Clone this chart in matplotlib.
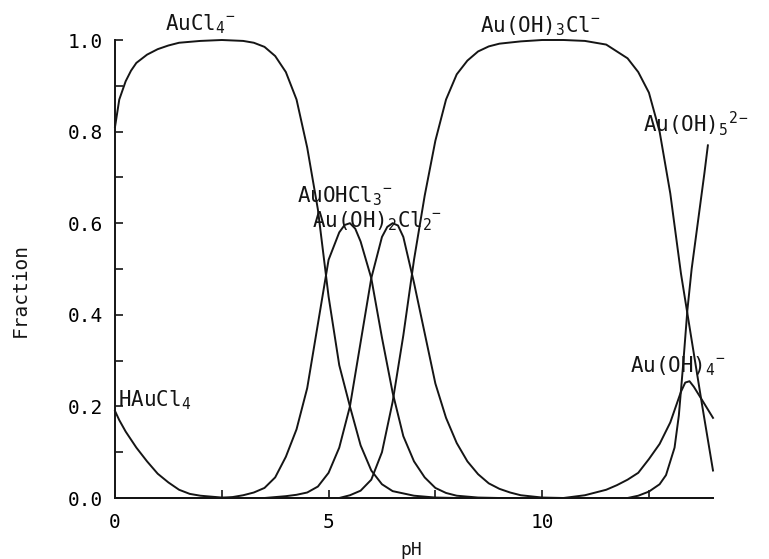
import matplotlib
matplotlib.use("Agg")
import matplotlib.pyplot as plt

# fraction of each Au(III) species against pH
ph_haucl4 = [0, 0.1, 0.25, 0.5, 0.75, 1.0, 1.25, 1.5, 1.75, 2.0, 2.5, 3.0, 14.0]
f_haucl4 = [0.19, 0.17, 0.145, 0.11, 0.08, 0.053, 0.034, 0.018, 0.009, 0.005, 0.001, 0.0, 0.0]

ph_aucl4 = [0, 0.1, 0.25, 0.375, 0.5, 0.75, 1.0, 1.25, 1.5, 2.0, 2.5, 3.0, 3.25, 3.5, 3.75,
            4.0, 4.25, 4.5, 4.75, 5.0, 5.25, 5.5, 5.75, 6.0, 6.25, 6.5, 7.0, 7.5, 8.0, 14.0]
f_aucl4 = [0.81, 0.87, 0.91, 0.933, 0.95, 0.968, 0.98, 0.988, 0.994, 0.998, 1.0, 0.998,
           0.994, 0.985, 0.965, 0.93, 0.87, 0.765, 0.63, 0.44, 0.29, 0.2, 0.115, 0.06,
           0.03, 0.015, 0.005, 0.001, 0.0, 0.0]

ph_auohcl3 = [0, 2.5, 2.75, 3.0, 3.25, 3.5, 3.75, 4.0, 4.25, 4.5, 4.75, 5.0, 5.25, 5.375,
              5.5, 5.625, 5.75, 6.0, 6.25, 6.5, 6.75, 7.0, 7.25, 7.5, 7.75, 8.0, 8.5, 9.0,
              14.0]
f_auohcl3 = [0.0, 0.0, 0.002, 0.006, 0.012, 0.022, 0.045, 0.09, 0.15, 0.24, 0.38, 0.52,
             0.58, 0.596, 0.60, 0.588, 0.56, 0.48, 0.35, 0.23, 0.135, 0.08, 0.045, 0.022,
             0.011, 0.005, 0.001, 0.0, 0.0]

ph_auoh2cl2 = [0, 3.5, 3.75, 4.0, 4.25, 4.5, 4.75, 5.0, 5.25, 5.5, 5.75, 6.0, 6.25, 6.375,
               6.5, 6.625, 6.75, 7.0, 7.25, 7.5, 7.75, 8.0, 8.25, 8.5, 8.75, 9.0, 9.25,
               9.5, 10.0, 10.5, 14.0]
f_auoh2cl2 = [0.0, 0.0, 0.002, 0.004, 0.007, 0.012, 0.025, 0.055, 0.11, 0.2, 0.34, 0.48,
              0.57, 0.592, 0.60, 0.595, 0.57, 0.47, 0.36, 0.25, 0.175, 0.12, 0.08, 0.052,
              0.032, 0.02, 0.012, 0.006, 0.001, 0.0, 0.0]

ph_auoh3cl = [0, 5.25, 5.5, 5.75, 6.0, 6.25, 6.5, 6.75, 7.0, 7.25, 7.5, 7.75, 8.0, 8.25,
              8.5, 8.75, 9.0, 9.5, 10.0, 10.5, 11.0, 11.5, 12.0, 12.25, 12.5, 12.75, 13.0,
              13.25, 13.5, 13.75, 14.0]
f_auoh3cl = [0.0, 0.0, 0.006, 0.016, 0.04, 0.1, 0.21, 0.355, 0.52, 0.66, 0.78, 0.87, 0.925,
             0.955, 0.975, 0.986, 0.992, 0.997, 1.0, 1.0, 0.998, 0.99, 0.96, 0.93, 0.885,
             0.80, 0.665, 0.49, 0.345, 0.2, 0.06]

ph_auoh4 = [0, 10.5, 11.0, 11.5, 11.75, 12.0, 12.25, 12.5, 12.75, 13.0, 13.25, 13.35,
            13.45, 13.55, 13.75, 14.0]
f_auoh4 = [0.0, 0.0, 0.006, 0.018, 0.028, 0.04, 0.055, 0.085, 0.118, 0.165, 0.232, 0.252,
           0.255, 0.243, 0.213, 0.175]

ph_auoh5 = [0, 12.0, 12.25, 12.5, 12.75, 12.9, 13.0, 13.1, 13.2, 13.3, 13.4, 13.5, 13.6,
            13.7, 13.8, 13.88]
f_auoh5 = [0.0, 0.0, 0.005, 0.014, 0.03, 0.05, 0.08, 0.11, 0.18, 0.29, 0.41, 0.5, 0.57,
           0.64, 0.71, 0.77]

# species label text and where it sits (pH, fraction of baseline)
labels = [r"HAuCl$_4$", r"AuCl$_4{}^{-}$", r"AuOHCl$_3{}^{-}$", r"Au(OH)$_2$Cl$_2{}^{-}$",
          r"Au(OH)$_3$Cl$^{-}$", r"Au(OH)$_4{}^{-}$", r"Au(OH)$_5{}^{2-}$"]
label_x = [0.07, 1.17, 4.26, 4.61, 8.55, 12.06, 12.37]
label_y = [0.20, 1.02, 0.645, 0.59, 1.017, 0.275, 0.80]

plt.rcParams['font.family'] = 'DejaVu Sans Mono'
plt.rcParams['mathtext.fontset'] = 'custom'
plt.rcParams['mathtext.rm'] = 'DejaVu Sans Mono'
plt.rcParams['mathtext.it'] = 'DejaVu Sans Mono'
plt.rcParams['mathtext.default'] = 'regular'

fig = plt.figure(figsize=(7.69, 5.59), dpi=100)
ax = fig.add_axes([115/769, 61/559, 598/769, 458/559])

curves = [(ph_haucl4, f_haucl4), (ph_aucl4, f_aucl4), (ph_auohcl3, f_auohcl3),
          (ph_auoh2cl2, f_auoh2cl2), (ph_auoh3cl, f_auoh3cl), (ph_auoh4, f_auoh4),
          (ph_auoh5, f_auoh5)]
for x, y in curves:
    ax.plot(x, y, color='#151515', lw=1.4, clip_on=False, solid_joinstyle='round')

for s, x, y in zip(labels, label_x, label_y):
    ax.text(x, y, s, fontsize=15, color='#151515', ha='left', va='baseline')

ax.set_xlim(0, 14)
ax.set_ylim(0, 1.0)
ax.spines['top'].set_visible(False)
ax.spines['right'].set_visible(False)
for side in ['left', 'bottom']:
    ax.spines[side].set_linewidth(1.4)
    ax.spines[side].set_color('#151515')

ax.set_xticks([0, 5, 10])
ax.set_xticklabels(['0', '5', '10'])
ax.set_xticks([2.5, 7.5, 12.5], minor=True)
ax.set_yticks([0, 0.2, 0.4, 0.6, 0.8, 1.0])
ax.set_yticklabels(['0.0', '0.2', '0.4', '0.6', '0.8', '1.0'])
ax.set_yticks([0.1, 0.3, 0.5, 0.7, 0.9], minor=True)
ax.tick_params(which='both', direction='in', length=6, width=1.2, color='#151515')
ax.tick_params(axis='y', which='major', labelsize=14, pad=9)
ax.tick_params(axis='x', which='major', labelsize=14, pad=11)

fig.text(20/769, 1 - 290/559, 'Fraction', rotation=90, fontsize=14,
         ha='center', va='center', color='#151515')
fig.text(411/769, 1 - 550/559, 'pH', fontsize=13, ha='center', va='center',
         color='#151515')

fig.savefig('out.png', dpi=100)
